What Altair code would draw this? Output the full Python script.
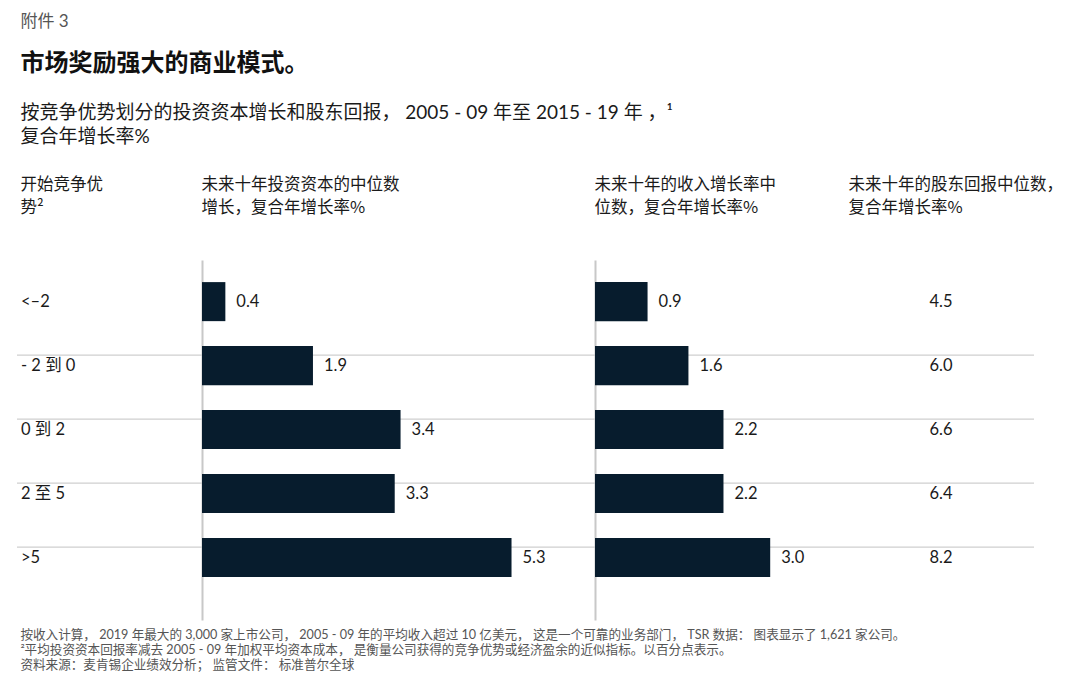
import altair as alt
import pandas as pd

cats = ["<–2", "- 2 到 0", "0 到 2", "2 至 5", ">5"]
invested = [0.4, 1.9, 3.4, 3.3, 5.3]
revenue = [0.9, 1.6, 2.2, 2.2, 3.0]
tsr = [4.5, 6.0, 6.6, 6.4, 8.2]

head_a = ["开始竞争优", "势²"]
head_b = ["未来十年投资资本的中位数", "增长，复合年增长率%"]
head_c = ["未来十年的收入增长率中", "位数，复合年增长率%"]
head_d = ["未来十年的股东回报中位数，", "复合年增长率%"]

exhibit = "附件 3"
main_title = "市场奖励强大的商业模式。"
subtitle = ["按竞争优势划分的投资资本增长和股东回报， 2005 - 09 年至 2015 - 19 年 ，¹", "复合年增长率%"]
footnotes = [
    "按收入计算， 2019 年最大的 3,000 家上市公司， 2005 - 09 年的平均收入超过 10 亿美元， 这是一个可靠的业务部门， TSR 数据： 图表显示了 1,621 家公司。",
    "²平均投资资本回报率减去 2005 - 09 年加权平均资本成本， 是衡量公司获得的竞争优势或经济盈余的近似指标。以百分点表示。",
    "资料来源：麦肯锡企业绩效分析； 监管文件： 标准普尔全球",
]

df = pd.DataFrame({"cat": cats, "inv": invested, "rev": revenue, "tsr": tsr})
df["inv_l"] = df["inv"].map(lambda v: f"{v:.1f}")
df["rev_l"] = df["rev"].map(lambda v: f"{v:.1f}")
df["tsr_l"] = df["tsr"].map(lambda v: f"{v:.1f}")
df["sep"] = [0, 1, 1, 1, 1]

FONT = "Lato, Noto Sans CJK SC, sans-serif"
CJK = "Noto Sans CJK SC, sans-serif"
BAR = "#071c2d"
GRID = "#cfcfcf"
TXT = "#1a1a1a"
H = 360
PX_PER_UNIT = 58.4

yscale = alt.Scale(domain=cats, paddingInner=0.39, paddingOuter=0.508, align=0.34)


def head(lines, dx=0):
    return alt.TitleParams(text=lines, anchor="start", fontSize=16.5, font=CJK,
                           fontWeight="normal", lineHeight=23, offset=44, dx=dx,
                           color=TXT, limit=600)


def grid_layer(width, axis=None):
    return alt.Chart(df).transform_filter("datum.sep == 1").mark_rule(
        color=GRID, strokeWidth=1.2, yOffset=9
    ).encode(
        y=alt.Y("cat:N", scale=yscale, bandPosition=0, axis=axis),
        x=alt.value(0), x2=alt.value(width),
    )


# Panel A: row labels
WA = 185
pA = alt.layer(
    grid_layer(WA),
    alt.Chart(df).mark_text(align="left", baseline="middle", fontSize=16.5, font=FONT, color=TXT).encode(
        y=alt.Y("cat:N", scale=yscale, axis=None),
        x=alt.value(4),
        text="cat:N",
    ),
).properties(width=WA, height=H, title=head(head_a, dx=4))


def bar_panel(field, label, width, title):
    dom = width / PX_PER_UNIT
    yaxis = alt.Axis(labels=False, ticks=False, title=None, domain=True,
                     domainColor="#c8c8c8", domainWidth=2, grid=False)
    bars = alt.Chart(df).mark_bar(color=BAR).encode(
        y=alt.Y("cat:N", scale=yscale),
        x=alt.X(f"{field}:Q", scale=alt.Scale(domain=[0, dom], nice=False, zero=True), axis=None),
    )
    labels = alt.Chart(df).mark_text(align="left", baseline="middle", dx=11, fontSize=16.5,
                                     font=FONT, color=TXT).encode(
        y=alt.Y("cat:N", scale=yscale),
        x=alt.X(f"{field}:Q", scale=alt.Scale(domain=[0, dom], nice=False, zero=True)),
        text=f"{label}:N",
    )
    return alt.layer(grid_layer(width, yaxis), bars, labels).properties(width=width, height=H, title=head(title))


pB = bar_panel("inv", "inv_l", 393, head_b)
pC = bar_panel("rev", "rev_l", 254, head_c)

WD = 185
pD = alt.layer(
    grid_layer(WD),
    alt.Chart(df).mark_text(align="center", baseline="middle", fontSize=16.5, font=FONT, color=TXT).encode(
        y=alt.Y("cat:N", scale=yscale, axis=None),
        x=alt.value(92),
        text="tsr_l:N",
    ),
).properties(width=WD, height=H, title=head(head_d))

hc = alt.hconcat(pA, pB, pC, pD, spacing=0, bounds="flush").properties(
    title=alt.TitleParams(text=main_title, subtitle=subtitle, anchor="start", fontSize=24,
                          fontWeight="bold", font=CJK, color="#111", subtitleFont=FONT,
                          subtitleFontSize=19, subtitleLineHeight=24, subtitleColor=TXT,
                          subtitlePadding=28, offset=30, dx=4)
)

mid = alt.vconcat(hc, spacing=0).properties(
    title=alt.TitleParams(text=footnotes, orient="bottom", anchor="start", fontSize=12.6,
                          lineHeight=15, fontWeight="normal", font=FONT, color="#555",
                          offset=9, dx=4, limit=1100)
)

chart = alt.vconcat(mid, spacing=0).properties(
    title=alt.TitleParams(text=exhibit, anchor="start", fontSize=17, fontWeight="normal",
                          font=FONT, color="#555", offset=21, dx=4),
    padding={"left": 8, "top": 4, "right": 0, "bottom": 0},
).configure_view(stroke=None)

chart.save("out.html", embed_options={"renderer": "svg", "actions": False})
